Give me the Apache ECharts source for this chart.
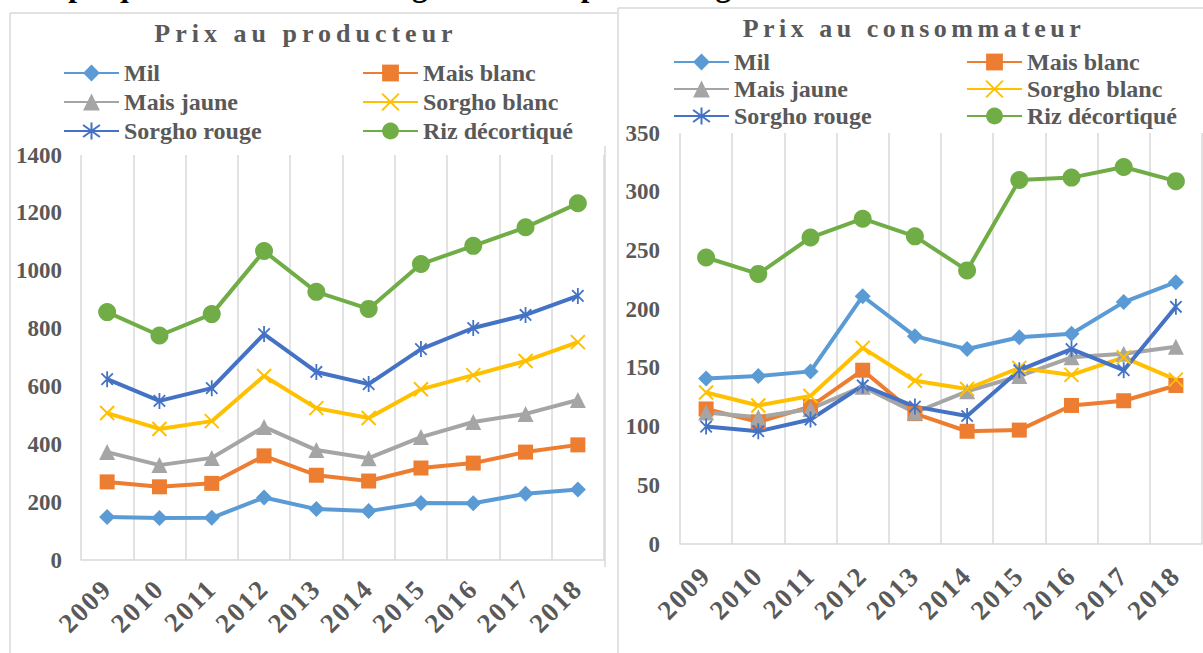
<!DOCTYPE html>
<html><head><meta charset="utf-8">
<script src="https://cdn.jsdelivr.net/npm/echarts@6/dist/echarts.min.js"></script>
<style>html,body{margin:0;padding:0;background:#fff;overflow:hidden}#c{width:1203px;height:653px}</style>
</head><body><div id="c"></div>
<script>
// ---------- data ----------
const years = ['2009','2010','2011','2012','2013','2014','2015','2016','2017','2018'];
const names = ['Mil','Mais blanc','Mais jaune','Sorgho blanc','Sorgho rouge','Riz décortiqué'];

// Prix au producteur
const prodMil         = [149, 145, 146, 216, 176, 169, 197, 196, 229, 244];
const prodMaisBlanc   = [270, 253, 265, 360, 293, 273, 318, 335, 373, 398];
const prodMaisJaune   = [373, 328, 353, 460, 380, 352, 425, 477, 505, 553];
const prodSorghoBlanc = [508, 453, 480, 636, 525, 491, 590, 639, 688, 753];
const prodSorghoRouge = [625, 550, 594, 781, 650, 608, 729, 802, 847, 913];
const prodRiz         = [857, 776, 850, 1068, 927, 868, 1023, 1086, 1150, 1233];

// Prix au consommateur
const consMil         = [141, 143, 147, 211, 177, 166, 176, 179, 206, 223];
const consMaisBlanc   = [115, 104, 117, 148, 111, 96, 97, 118, 122, 135];
const consMaisJaune   = [112, 108, 115, 134, 112, 130, 143, 159, 162, 168];
const consSorghoBlanc = [129, 118, 126, 167, 139, 132, 150, 144, 159, 140];
const consSorghoRouge = [100, 96, 106, 135, 117, 109, 148, 166, 148, 202];
const consRiz         = [244, 230, 261, 277, 262, 233, 310, 312, 321, 309];

// axis ticks
const prodTicks = [0, 200, 400, 600, 800, 1000, 1200, 1400];
const consTicks = [0, 50, 100, 150, 200, 250, 300, 350];

const mainTitle = 'Graphique 0.7.6 : Prix du kilogramme des produits agricoles';
const prodTitle = 'Prix au producteur';
const consTitle = 'Prix au consommateur';

// ---------- styles ----------
const FONT = '"Liberation Serif", "Times New Roman", serif';
const TXT = '#595959';
const GRID_C = '#D9D9D9';
const colors = ['#5B9BD5', '#ED7D31', '#A5A5A5', '#FFC000', '#4472C4', '#70AD47'];
const symbols = [
  'diamond', 'rect', 'triangle',
  'path://M0,0L10,10M10,0L0,10',
  'path://M0,0L10,10M10,0L0,10M5,-2L5,12',
  'circle'
];
const symSizes = [16, 15, 16, 14, 16, 18];
const symBorder = [0, 0, 0, 2, 1.8, 0];

function makeSeries(arrays, idx) {
  return arrays.map((d, i) => ({
    name: names[i],
    type: 'line',
    xAxisIndex: idx, yAxisIndex: idx,
    data: d,
    symbol: symbols[i],
    symbolSize: symSizes[i],
    symbolKeepAspect: true,
    showAllSymbol: true,
    lineStyle: { color: colors[i], width: 4 },
    itemStyle: { color: colors[i], borderColor: colors[i], borderWidth: symBorder[i] },
    emphasis: { disabled: true },
    z: 2
  }));
}

function xAxis(idx, margin) {
  return {
    type: 'category', gridIndex: idx, data: years, boundaryGap: true,
    axisLine: { show: true, lineStyle: { color: GRID_C, width: 1.5 } },
    axisTick: { show: false },
    splitLine: { show: true, lineStyle: { color: GRID_C, width: 1.5 } },
    axisLabel: { interval: 0, rotate: 45, margin: margin, color: TXT,
      fontFamily: FONT, fontWeight: 'bold', fontSize: 27 }
  };
}
function yAxis(idx, ticks, margin) {
  return {
    type: 'value', gridIndex: idx,
    min: ticks[0], max: ticks[ticks.length - 1], interval: ticks[1] - ticks[0],
    axisLine: { show: false }, axisTick: { show: false },
    splitLine: { show: false },
    axisLabel: { margin: margin, color: TXT, fontFamily: FONT, fontWeight: 'bold', fontSize: 23,
      formatter: v => String(v) }
  };
}
function legend(left, top, data, gap) {
  return {
    orient: 'vertical', left: left, top: top, data: data, padding: 0,
    itemWidth: 55, itemHeight: 21, itemGap: gap, selectedMode: false,
    textStyle: { color: TXT, fontFamily: FONT, fontWeight: 'bold', fontSize: 24, lineHeight: 24 }
  };
}
const ttl = (text, left, top) => ({
  text: text, left: left, top: top, textAlign: 'center', padding: 0,
  textStyle: { color: TXT, fontFamily: FONT, fontWeight: 'bold', fontSize: 26 }
});
const ln = (x1, y1, x2, y2) => ({ type: 'line', silent: true,
  shape: { x1, y1, x2, y2 }, style: { stroke: GRID_C, lineWidth: 1.5 } });

const chart = echarts.init(document.getElementById('c'), null, { renderer: 'svg' });
chart.setOption({
  animation: false,
  backgroundColor: '#fff',
  title: [ttl(prodTitle, 306, 20), ttl(consTitle, 914, 15)],
  legend: [
    legend(63, 61, ['Mil', 'Mais jaune', 'Sorgho rouge'], 5),
    legend(362, 61, ['Mais blanc', 'Sorgho blanc', 'Riz décortiqué'], 5),
    legend(673, 50, ['Mil', 'Mais jaune', 'Sorgho rouge'], 3),
    legend(966, 50, ['Mais blanc', 'Sorgho blanc', 'Riz décortiqué'], 3)
  ],
  grid: [
    { left: 81, top: 155, width: 523, height: 405 },
    { left: 680, top: 133, width: 522, height: 411 }
  ],
  xAxis: [xAxis(0, 24), xAxis(1, 27)],
  yAxis: [yAxis(0, prodTicks, 19), yAxis(1, consTicks, 20)],
  series: makeSeries([prodMil, prodMaisBlanc, prodMaisJaune, prodSorghoBlanc, prodSorghoRouge, prodRiz], 0)
    .concat(makeSeries([consMil, consMaisBlanc, consMaisJaune, consSorghoBlanc, consSorghoRouge, consRiz], 1)),
  graphic: [
    ln(10, 13, 10, 653), ln(10, 13, 617, 13),
    ln(605, 146, 605, 567),
    ln(618, 8, 618, 653), ln(618, 8, 1203, 8),
    { type: 'text', x: 15, y: -30, silent: true,
      style: { text: mainTitle, fill: '#000', font: 'bold 31px ' + FONT, verticalAlign: 'top' } }
  ]
});

function spaceTexts() {
  document.querySelectorAll('#c text').forEach(t => {
    const s = t.textContent;
    if (s === prodTitle) {
      t.setAttribute('letter-spacing', '5');
    } else if (s === consTitle) {
      t.setAttribute('letter-spacing', '4.5');
    } else if (years.indexOf(s) >= 0) {
      t.setAttribute('letter-spacing', '2');
    }
  });
}
spaceTexts();
chart.on('finished', spaceTexts);
setTimeout(spaceTexts, 50);
</script>
</body></html>
